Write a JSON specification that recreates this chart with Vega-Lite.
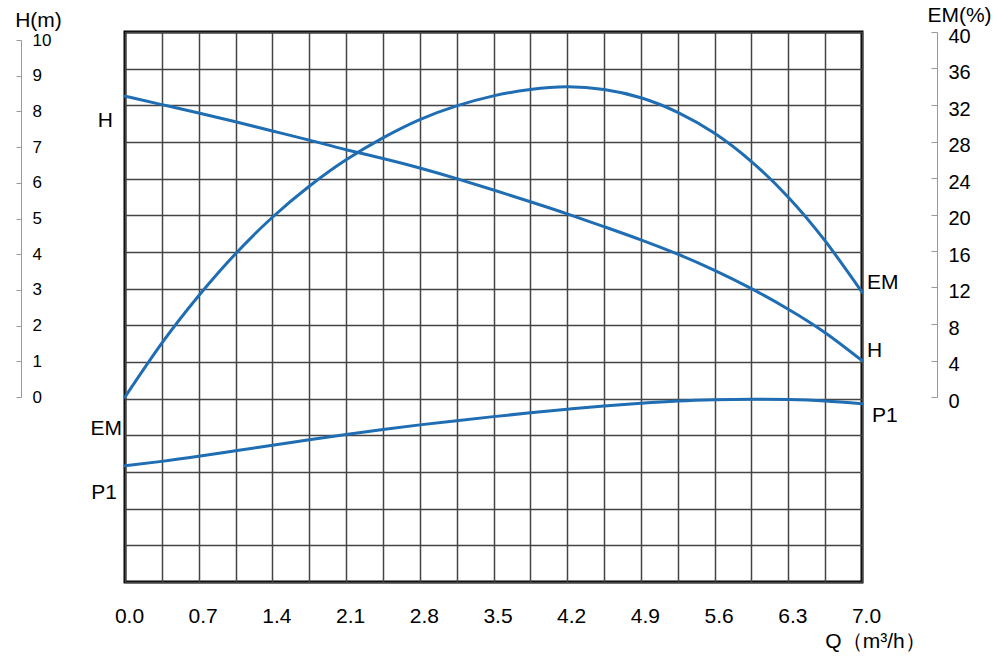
{
  "$schema": "https://vega.github.io/schema/vega-lite/v6.json",
  "width": 737,
  "height": 550,
  "autosize": {"type": "none"},
  "padding": {"left": 125, "top": 32, "right": 138, "bottom": 74},
  "background": "white",
  "config": {
    "view": {"stroke": "black", "strokeWidth": 3},
    "font": "Liberation Sans",
    "axis": {"labelColor": "#000", "titleColor": "#000", "titleFontWeight": "normal", "labelFont": "Liberation Sans", "titleFont": "Liberation Sans"}
  },
  "datasets": {
    "H": [
      {"Q": 0, "H": 8.25}, {"Q": 0.35, "H": 8.02}, {"Q": 0.7, "H": 7.79}, {"Q": 1.05, "H": 7.55},
      {"Q": 1.4, "H": 7.3}, {"Q": 1.75, "H": 7.05}, {"Q": 2.1, "H": 6.79}, {"Q": 2.45, "H": 6.55},
      {"Q": 2.8, "H": 6.29}, {"Q": 3.15, "H": 6.0}, {"Q": 3.5, "H": 5.69}, {"Q": 3.85, "H": 5.37},
      {"Q": 4.2, "H": 5.04}, {"Q": 4.55, "H": 4.69}, {"Q": 4.9, "H": 4.33}, {"Q": 5.25, "H": 3.94},
      {"Q": 5.6, "H": 3.5}, {"Q": 5.95, "H": 3.0}, {"Q": 6.3, "H": 2.44}, {"Q": 6.65, "H": 1.8},
      {"Q": 7.0, "H": 1.04}
    ],
    "EM": [
      {"Q": 0, "EM": 0}, {"Q": 0.35, "EM": 5.9}, {"Q": 0.7, "EM": 11.1}, {"Q": 1.05, "EM": 15.7},
      {"Q": 1.4, "EM": 19.7}, {"Q": 1.75, "EM": 23.1}, {"Q": 2.1, "EM": 26.0}, {"Q": 2.45, "EM": 28.4},
      {"Q": 2.8, "EM": 30.4}, {"Q": 3.15, "EM": 31.9}, {"Q": 3.5, "EM": 33.0}, {"Q": 3.85, "EM": 33.7},
      {"Q": 4.2, "EM": 34.0}, {"Q": 4.55, "EM": 33.7}, {"Q": 4.9, "EM": 32.8}, {"Q": 5.25, "EM": 31.2},
      {"Q": 5.6, "EM": 28.9}, {"Q": 5.95, "EM": 25.8}, {"Q": 6.3, "EM": 21.9}, {"Q": 6.65, "EM": 17.1},
      {"Q": 7.0, "EM": 11.5}
    ],
    "P1": [
      {"Q": 0, "P1": -1.83}, {"Q": 0.35, "P1": -1.71}, {"Q": 0.7, "P1": -1.57}, {"Q": 1.05, "P1": -1.42},
      {"Q": 1.4, "P1": -1.27}, {"Q": 1.75, "P1": -1.12}, {"Q": 2.1, "P1": -0.975}, {"Q": 2.45, "P1": -0.84},
      {"Q": 2.8, "P1": -0.715}, {"Q": 3.15, "P1": -0.6}, {"Q": 3.5, "P1": -0.49}, {"Q": 3.85, "P1": -0.385},
      {"Q": 4.2, "P1": -0.29}, {"Q": 4.55, "P1": -0.2}, {"Q": 4.9, "P1": -0.125}, {"Q": 5.25, "P1": -0.065},
      {"Q": 5.6, "P1": -0.03}, {"Q": 5.95, "P1": -0.015}, {"Q": 6.3, "P1": -0.025}, {"Q": 6.65, "P1": -0.065},
      {"Q": 7.0, "P1": -0.14}
    ],
    "labels": [
      {"label": "H", "Q": 0, "level": 7.57, "side": "leftH"},
      {"label": "EM", "Q": 0, "level": -0.83, "side": "leftEM"},
      {"label": "P1", "Q": 0, "level": -2.56, "side": "leftP1"},
      {"label": "EM", "Q": 7, "level": 3.15, "side": "right"},
      {"label": "H", "Q": 7, "level": 1.3, "side": "right"},
      {"label": "P1", "Q": 7, "level": -0.48, "side": "rightP1"}
    ]
  },
  "encoding": {
    "x": {
      "field": "Q",
      "type": "quantitative",
      "scale": {"domain": [0, 7], "nice": false, "zero": false},
      "axis": {
        "orient": "bottom",
        "values": [0, 0.35, 0.7, 1.05, 1.4, 1.75, 2.1, 2.45, 2.8, 3.15, 3.5, 3.85, 4.2, 4.55, 4.9, 5.25, 5.6, 5.95, 6.3, 6.65, 7],
        "labelExpr": "round(datum.value / 0.35) % 2 === 0 ? format(datum.value, '.1f') : ''",
        "grid": true,
        "gridColor": "#444",
        "gridWidth": 1.5,
        "ticks": false,
        "domain": false,
        "labelFontSize": 21,
        "labelPadding": 34,
        "labelBaseline": "middle",
        "labelOffset": 4,
        "labelOverlap": false,
        "labelFlush": false,
        "title": "Q（m³/h）",
        "titleFontSize": 21,
        "titleX": 750,
        "titleY": 59,
        "titleAlign": "center",
        "titleBaseline": "middle"
      }
    }
  },
  "layer": [
    {
      "layer": [
        {
          "data": {"name": "H"},
          "mark": {"type": "line", "color": "#1f6db3", "strokeWidth": 3, "interpolate": "natural", "strokeCap": "round"},
          "encoding": {
            "y": {
              "field": "H", "type": "quantitative",
              "scale": {"domain": [-5, 10], "nice": false, "zero": false},
              "axis": {"orient": "left", "values": [-5, -4, -3, -2, -1, 0, 1, 2, 3, 4, 5, 6, 7, 8, 9, 10], "grid": true, "gridColor": "#444", "gridWidth": 1.5, "labels": false, "ticks": false, "domain": false, "title": null}
            }
          }
        },
        {
          "data": {"name": "P1"},
          "mark": {"type": "line", "color": "#1f6db3", "strokeWidth": 3, "interpolate": "natural", "strokeCap": "round"},
          "encoding": {
            "y": {
              "field": "P1", "type": "quantitative",
              "scale": {"domain": [-5, 10], "nice": false, "zero": false},
              "axis": {"orient": "left", "values": [-5, -4, -3, -2, -1, 0, 1, 2, 3, 4, 5, 6, 7, 8, 9, 10], "grid": true, "gridColor": "#444", "gridWidth": 1.5, "labels": false, "ticks": false, "domain": false, "title": null}
            }
          }
        },
        {
          "data": {"name": "labels"},
          "transform": [{"filter": "datum.side === 'leftH'"}],
          "mark": {"type": "text", "align": "right", "baseline": "middle", "dx": -12, "fontSize": 21, "color": "#000"},
          "encoding": {
            "y": {
              "field": "level", "type": "quantitative",
              "scale": {"domain": [-5, 10], "nice": false, "zero": false},
              "axis": {"orient": "left", "values": [-5, -4, -3, -2, -1, 0, 1, 2, 3, 4, 5, 6, 7, 8, 9, 10], "grid": true, "gridColor": "#444", "gridWidth": 1.5, "labels": false, "ticks": false, "domain": false, "title": null}
            },
            "text": {"field": "label"}
          }
        },
        {
          "data": {"name": "labels"},
          "transform": [{"filter": "datum.side === 'leftEM'"}],
          "mark": {"type": "text", "align": "right", "baseline": "middle", "dx": -3, "fontSize": 21, "color": "#000"},
          "encoding": {
            "y": {
              "field": "level", "type": "quantitative",
              "scale": {"domain": [-5, 10], "nice": false, "zero": false},
              "axis": {"orient": "left", "values": [-5, -4, -3, -2, -1, 0, 1, 2, 3, 4, 5, 6, 7, 8, 9, 10], "grid": true, "gridColor": "#444", "gridWidth": 1.5, "labels": false, "ticks": false, "domain": false, "title": null}
            },
            "text": {"field": "label"}
          }
        },
        {
          "data": {"name": "labels"},
          "transform": [{"filter": "datum.side === 'leftP1'"}],
          "mark": {"type": "text", "align": "right", "baseline": "middle", "dx": -8, "fontSize": 21, "color": "#000"},
          "encoding": {
            "y": {
              "field": "level", "type": "quantitative",
              "scale": {"domain": [-5, 10], "nice": false, "zero": false},
              "axis": {"orient": "left", "values": [-5, -4, -3, -2, -1, 0, 1, 2, 3, 4, 5, 6, 7, 8, 9, 10], "grid": true, "gridColor": "#444", "gridWidth": 1.5, "labels": false, "ticks": false, "domain": false, "title": null}
            },
            "text": {"field": "label"}
          }
        },
        {
          "data": {"name": "labels"},
          "transform": [{"filter": "datum.side === 'right'"}],
          "mark": {"type": "text", "align": "left", "baseline": "middle", "dx": 5, "fontSize": 21, "color": "#000"},
          "encoding": {
            "y": {
              "field": "level", "type": "quantitative",
              "scale": {"domain": [-5, 10], "nice": false, "zero": false},
              "axis": {"orient": "left", "values": [-5, -4, -3, -2, -1, 0, 1, 2, 3, 4, 5, 6, 7, 8, 9, 10], "grid": true, "gridColor": "#444", "gridWidth": 1.5, "labels": false, "ticks": false, "domain": false, "title": null}
            },
            "text": {"field": "label"}
          }
        },
        {
          "data": {"name": "labels"},
          "transform": [{"filter": "datum.side === 'rightP1'"}],
          "mark": {"type": "text", "align": "left", "baseline": "middle", "dx": 10, "fontSize": 21, "color": "#000"},
          "encoding": {
            "y": {
              "field": "level", "type": "quantitative",
              "scale": {"domain": [-5, 10], "nice": false, "zero": false},
              "axis": {"orient": "left", "values": [-5, -4, -3, -2, -1, 0, 1, 2, 3, 4, 5, 6, 7, 8, 9, 10], "grid": true, "gridColor": "#444", "gridWidth": 1.5, "labels": false, "ticks": false, "domain": false, "title": null}
            },
            "text": {"field": "label"}
          }
        }
      ]
    },
    {
      "data": {"name": "EM"},
      "mark": {"type": "line", "color": "#1f6db3", "strokeWidth": 3, "interpolate": "natural", "strokeCap": "round"},
      "encoding": {
        "y": {
          "field": "EM", "type": "quantitative",
          "scale": {"domain": [0, 40], "range": [365, 0], "nice": false, "zero": false},
          "axis": {
            "orient": "right", "offset": 75,
            "values": [0, 4, 8, 12, 16, 20, 24, 28, 32, 36, 40],
            "grid": false, "tickSize": -6, "tickColor": "#999", "domainColor": "#999", "domainWidth": 1,
            "labelPadding": 17, "labelAlign": "left", "labelBaseline": "middle", "labelOffset": 4,
            "labelFontSize": 20, "labelOverlap": false, "labelFlush": false,
            "title": "EM(%)", "titleAngle": 0, "titleX": 22, "titleY": -17, "titleFontSize": 21,
            "titleAlign": "center", "titleBaseline": "middle"
          }
        }
      }
    },
    {
      "data": {"name": "H"},
      "mark": {"type": "point", "opacity": 0},
      "encoding": {
        "y": {
          "field": "H", "type": "quantitative",
          "scale": {"domain": [0, 10], "range": [365, 8], "nice": false, "zero": false},
          "axis": {
            "orient": "left", "offset": 104,
            "values": [0, 1, 2, 3, 4, 5, 6, 7, 8, 9, 10],
            "grid": false, "tickSize": 5, "tickColor": "#999", "domainColor": "#999", "domainWidth": 1,
            "labelPadding": -16, "labelAlign": "left", "labelBaseline": "middle",
            "labelFontSize": 17, "labelOverlap": false, "labelFlush": false,
            "title": "H(m)", "titleAngle": 0, "titleX": 17, "titleY": -12, "titleFontSize": 21,
            "titleAlign": "center", "titleBaseline": "middle"
          }
        }
      }
    }
  ],
  "resolve": {"scale": {"y": "independent"}, "axis": {"y": "independent"}}
}
